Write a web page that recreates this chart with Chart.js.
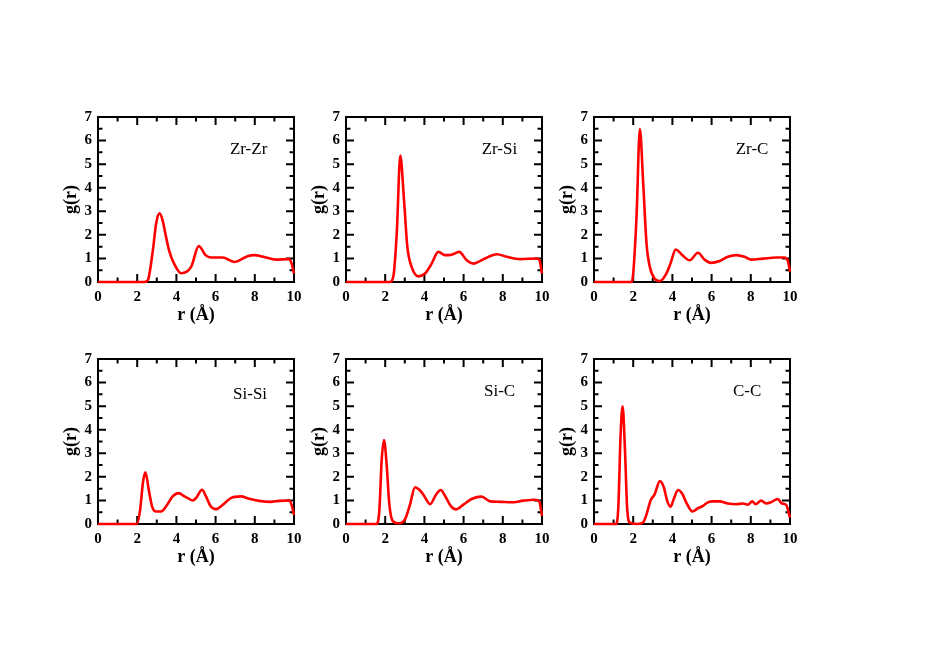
<!DOCTYPE html>
<html><head><meta charset="utf-8">
<script src="https://cdn.jsdelivr.net/npm/chart.js@4"></script>
<style>
html,body{margin:0;padding:0;background:#fff;width:926px;height:655px;overflow:hidden;}
canvas{position:absolute;}
</style></head><body>
<script>
// ---- data (r in Å, g(r)) ----
const zrzrR = [0,2.37,2.54,2.8,2.97,3.14,3.3,3.45,3.64,3.9,4.24,4.75,5.14,5.5,5.76,6.36,6.95,7.63,7.97,8.56,9.07,9.75,9.88,10];
const zrzrG = [0,0,0.07,1.35,2.5,2.91,2.6,2.0,1.3,0.75,0.37,0.64,1.52,1.13,1.04,1.04,0.85,1.09,1.14,1.04,0.95,0.97,0.78,0.36];
const zrsiR = [0,2.24,2.41,2.59,2.77,2.96,3.13,3.35,3.69,4.03,4.37,4.71,5.05,5.39,5.78,6.16,6.5,7.09,7.69,8.2,8.88,9.73,9.86,10];
const zrsiG = [0,0,0.21,2.06,5.36,3.48,1.49,0.64,0.24,0.36,0.78,1.28,1.14,1.16,1.28,0.92,0.78,1.0,1.18,1.07,0.97,1.0,0.95,0.36];
const zrcR = [0,1.92,2.0,2.17,2.34,2.51,2.68,2.85,3.1,3.36,3.69,3.9,4.17,4.46,4.88,5.31,5.64,5.98,6.41,6.83,7.25,7.68,8.02,8.61,9.29,9.71,9.88,10];
const zrcG = [0,0,0.36,2.77,6.49,4.19,1.63,0.64,0.14,0.04,0.36,0.78,1.38,1.18,0.92,1.24,0.95,0.81,0.89,1.07,1.14,1.07,0.95,0.99,1.04,1.04,0.92,0.43];
const sisiR = [0,1.98,2.15,2.29,2.42,2.59,2.76,2.97,3.22,3.47,3.81,4.12,4.41,4.58,4.83,5.0,5.31,5.51,5.76,6.02,6.36,6.78,7.29,7.71,8.22,8.81,9.24,9.75,9.88,10];
const sisiG = [0,0,0.6,1.74,2.19,1.45,0.74,0.53,0.53,0.74,1.17,1.31,1.17,1.1,1.0,1.1,1.45,1.17,0.74,0.63,0.81,1.1,1.17,1.07,0.98,0.94,0.98,1.0,0.81,0.38];
const sicR = [0,1.56,1.7,1.82,1.94,2.07,2.21,2.38,2.67,3.01,3.27,3.52,3.78,3.98,4.29,4.59,4.83,5.05,5.34,5.61,5.99,6.41,6.92,7.35,7.86,8.45,9.05,9.64,9.86,10];
const sicG = [0,0,0.56,2.7,3.56,2.56,0.84,0.13,0.03,0.2,0.84,1.56,1.42,1.2,0.84,1.24,1.44,1.2,0.77,0.62,0.82,1.06,1.16,0.96,0.94,0.92,0.99,1.03,0.96,0.34];
const ccR = [0,1.12,1.24,1.36,1.46,1.58,1.69,1.83,2.25,2.5,2.68,2.88,3.1,3.36,3.56,3.73,3.9,4.07,4.29,4.51,4.75,5.02,5.31,5.56,5.81,6.07,6.41,6.83,7.25,7.59,7.85,8.07,8.24,8.53,8.78,9.03,9.37,9.59,9.8,10];
const ccG = [0,0,0.7,3.85,4.99,3.13,0.7,0.06,0,0.06,0.41,0.99,1.27,1.82,1.56,0.99,0.73,1.06,1.44,1.27,0.84,0.53,0.67,0.77,0.92,0.96,0.96,0.87,0.84,0.87,0.82,0.96,0.84,0.99,0.87,0.92,1.06,0.87,0.82,0.27];

const xTicks = [0,2,4,6,8,10];
const yTicks = [0,1,2,3,4,5,6,7];
const pairNames = ['Zr-Zr','Zr-Si','Zr-C','Si-Si','Si-C','C-C'];
const seriesR = [zrzrR, zrsiR, zrcR, sisiR, sicR, ccR];
const seriesG = [zrzrG, zrsiG, zrcG, sisiG, sicG, ccG];

// ---- layout ----
const plotLefts = [98, 346, 594];
const plotTops = [117, 359];
const W = 196, H = 165;
const LW = 37, TP = 15, RP = 15, BH = 44;
const labelPos = [[6.73,5.6],[6.92,5.6],[7.23,5.6],[6.89,5.5],[7.04,5.6],[7.09,5.6]];
const serif = "'Liberation Serif','Times New Roman',Times,serif";

const framePlugin = {
  id: 'frame',
  beforeDatasetsDraw(chart) {
    const {ctx, chartArea: a, scales: {x, y}} = chart;
    ctx.save();
    ctx.strokeStyle = '#000';
    ctx.lineWidth = 2;
    ctx.strokeRect(a.left, a.top, a.right - a.left, a.bottom - a.top);
    ctx.beginPath();
    for (let v = 1; v < 10; v++) {
      const px = x.getPixelForValue(v);
      const len = (v % 2 === 0) ? 8 : 4.5;
      ctx.moveTo(px, a.bottom); ctx.lineTo(px, a.bottom - len);
      ctx.moveTo(px, a.top); ctx.lineTo(px, a.top + len);
    }
    for (let k = 1; k < 14; k++) {
      const v = k / 2;
      const py = y.getPixelForValue(v);
      const len = (k % 2 === 0) ? 8 : 4.5;
      ctx.moveTo(a.left, py); ctx.lineTo(a.left + len, py);
      ctx.moveTo(a.right, py); ctx.lineTo(a.right - len, py);
    }
    ctx.stroke();
    ctx.restore();
  },
  afterDatasetsDraw(chart) {
    const {ctx, scales: {x, y}} = chart;
    const i = chart.options.plugins.frame.index;
    ctx.save();
    ctx.fillStyle = '#000';
    ctx.font = '17px ' + serif;
    ctx.textAlign = 'left';
    ctx.textBaseline = 'middle';
    ctx.fillText(pairNames[i], x.getPixelForValue(labelPos[i][0]), y.getPixelForValue(labelPos[i][1]));
    ctx.restore();
  }
};

for (let i = 0; i < 6; i++) {
  const col = i % 3, row = Math.floor(i / 3);
  const cv = document.createElement('canvas');
  cv.width = LW + W + RP;
  cv.height = TP + H + BH;
  cv.style.left = (plotLefts[col] - LW) + 'px';
  cv.style.top = (plotTops[row] - TP) + 'px';
  cv.style.width = cv.width + 'px';
  cv.style.height = cv.height + 'px';
  document.body.appendChild(cv);
  const pts = seriesR[i].map((r, j) => ({x: r, y: seriesG[i][j]}));
  new Chart(cv, {
    type: 'line',
    data: { datasets: [{
      data: pts,
      borderColor: '#ff0000',
      borderWidth: 2.6,
      pointRadius: 0,
      fill: false,
      cubicInterpolationMode: 'monotone',
      clip: false
    }]},
    options: {
      responsive: false,
      animation: false,
      devicePixelRatio: 1,
      layout: { padding: { left: 0, top: TP, right: RP, bottom: 0 } },
      plugins: { legend: {display: false}, tooltip: {enabled: false}, frame: { index: i } },
      scales: {
        x: {
          type: 'linear', min: 0, max: 10,
          afterFit: s => { s.height = BH; },
          afterBuildTicks: s => { s.ticks = xTicks.map(v => ({value: v})); },
          grid: { display: false, drawTicks: false },
          border: { display: false },
          ticks: { color: '#000', padding: 6, maxRotation: 0, autoSkip: false,
                   font: { family: serif, size: 15, weight: 'bold' } },
          title: { display: true, text: 'r (Å)', color: '#000', padding: 0,
                   font: { family: serif, size: 18, weight: 'bold' } }
        },
        y: {
          type: 'linear', min: 0, max: 7,
          afterFit: s => { s.width = LW; },
          afterBuildTicks: s => { s.ticks = yTicks.map(v => ({value: v})); },
          grid: { display: false, drawTicks: false },
          border: { display: false },
          ticks: { color: '#000', padding: 6, autoSkip: false,
                   font: { family: serif, size: 15, weight: 'bold' } },
          title: { display: true, text: 'g(r)', color: '#000', padding: 0,
                   font: { family: serif, size: 18, weight: 'bold' } }
        }
      }
    },
    plugins: [framePlugin]
  });
}
</script>
</body></html>
